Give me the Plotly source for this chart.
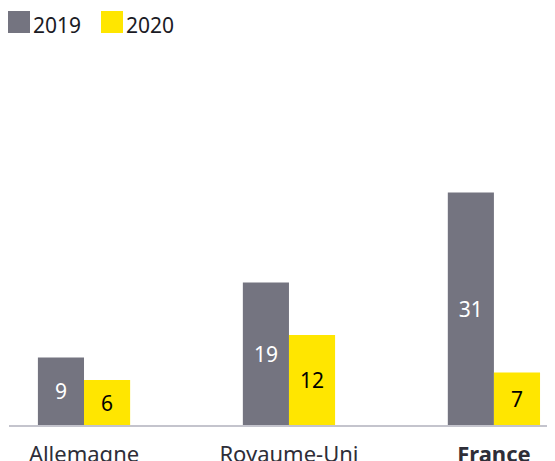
import plotly.graph_objects as go

categories = ["Allemagne", "Royaume-Uni", "France"]
series_names = ["2019", "2020"]
values_2019 = [9, 19, 31]
values_2020 = [6, 12, 7]
tick_labels = ["Allemagne", "Royaume-Uni", "<b>France</b>"]

GRAY = "#747480"
YELLOW = "#FFE600"
FONT = "Noto Sans"

# page body has an 8px margin; figure is placed at (8, 8)
OFF = 8
W, H = 555 - OFF, 461 - OFF
ML, MR, MT, MB = 9 - OFF, 0, 50 - OFF, 36
PW, PH = W - ML - MR, H - MT - MB

def px_x(x):
    return (x - OFF - ML) / PW

def px_y(y):
    return (H - MB - (y - OFF)) / PH

fig = go.Figure()
fig.add_trace(go.Bar(
    x=categories, y=values_2019, name=series_names[0],
    marker=dict(color=GRAY, line=dict(width=0)),
    text=values_2019, textposition="inside", insidetextanchor="middle",
    textfont=dict(color="white", size=21, family=FONT),
    showlegend=False,
))
fig.add_trace(go.Bar(
    x=categories, y=values_2020, name=series_names[1],
    marker=dict(color=YELLOW, line=dict(width=0)),
    text=values_2020, textposition="inside", insidetextanchor="middle",
    textfont=dict(color="black", size=21, family=FONT),
    showlegend=False,
))

# custom legend
legend_items = [(series_names[0], GRAY, 8), (series_names[1], YELLOW, 101)]
for name, col, x0 in legend_items:
    fig.add_shape(type="rect", xref="paper", yref="paper",
                  x0=px_x(x0), x1=px_x(x0 + 22), y0=px_y(33), y1=px_y(11),
                  fillcolor=col, line=dict(width=0), layer="above")
    fig.add_annotation(xref="paper", yref="paper", x=px_x(x0 + 23), y=px_y(25),
                       text=name, showarrow=False, xanchor="left", yanchor="middle",
                       font=dict(size=21, color="#1a1a24", family=FONT))

fig.update_layout(
    width=W, height=H,
    margin=dict(l=ML, r=MR, t=MT, b=MB, autoexpand=False),
    barmode="group", bargap=0.55, bargroupgap=0,
    plot_bgcolor="white", paper_bgcolor="white",
    uniformtext=dict(minsize=21, mode="show"),
    font=dict(family=FONT),
    xaxis=dict(
        range=[-0.366, 2.298],
        automargin=False,
        tickmode="array", tickvals=categories, ticktext=tick_labels,
        tickfont=dict(size=22, color="#2e2e38", family=FONT),
        ticklabelstandoff=9,
        showline=True, linecolor="#c4c4cd", linewidth=2,
        ticks="", showgrid=False, zeroline=False,
    ),
    yaxis=dict(range=[0, 50], visible=False, showgrid=False, zeroline=False,
               automargin=False),
)

fig.write_html("out.html")
